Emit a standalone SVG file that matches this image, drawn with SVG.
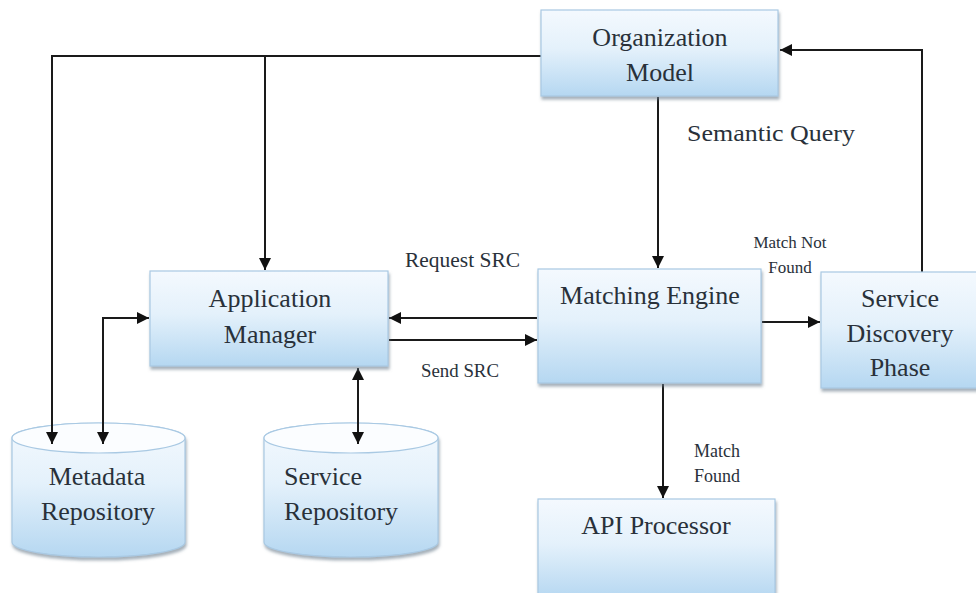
<svg xmlns="http://www.w3.org/2000/svg" width="976" height="593" viewBox="0 0 976 593" font-family="'Liberation Serif', 'Times New Roman', 'DejaVu Serif', serif">
<defs>
<linearGradient id="g" x1="0" y1="0" x2="0" y2="1">
<stop offset="0" stop-color="#f4f9fe"/>
<stop offset="0.45" stop-color="#e4f1fb"/>
<stop offset="1" stop-color="#b5d7f1"/>
</linearGradient>
<marker id="ah" viewBox="0 0 10 10" refX="10" refY="5" markerWidth="12" markerHeight="12" markerUnits="userSpaceOnUse" orient="auto-start-reverse">
<path d="M0,0 L10,5 L0,10 z" fill="#111"/>
</marker>
<filter id="sh" x="-5%" y="-5%" width="115%" height="120%">
<feDropShadow dx="1" dy="3" stdDeviation="1.5" flood-color="#6a7c8c" flood-opacity="0.6"/>
</filter>
</defs>
<style>
.box{fill:url(#g);stroke:#a9c9e3;stroke-width:1.2;filter:url(#sh)}
.t{font-family:'Liberation Serif','Times New Roman','DejaVu Serif',serif;font-size:26px;fill:#29313a;text-anchor:middle}
.ts{font-family:'Liberation Serif','Times New Roman','DejaVu Serif',serif;font-size:26px;fill:#29313a;text-anchor:start}
.l{font-family:'Liberation Serif','Times New Roman','DejaVu Serif',serif;fill:#29313a}
.c{fill:none;stroke:#1a1a1a;stroke-width:2}
</style>
<rect width="976" height="593" fill="#fff"/>
<g id="connectors">
<polyline class="c" points="541,56 52,56 52,444" marker-end="url(#ah)"/>
<line class="c" x1="265" y1="56" x2="265" y2="270" marker-end="url(#ah)"/>
<polyline class="c" points="103,444 103,318 149,318" marker-start="url(#ah)" marker-end="url(#ah)"/>
<line class="c" x1="358" y1="368" x2="358" y2="444" marker-start="url(#ah)" marker-end="url(#ah)"/>
<line class="c" x1="537" y1="318" x2="389" y2="318" marker-end="url(#ah)"/>
<line class="c" x1="389" y1="340" x2="537" y2="340" marker-end="url(#ah)"/>
<line class="c" x1="658" y1="97" x2="658" y2="268" marker-end="url(#ah)"/>
<line class="c" x1="762" y1="322" x2="820" y2="322" marker-end="url(#ah)"/>
<polyline class="c" points="922,272 922,50 780,50" marker-end="url(#ah)"/>
<line class="c" x1="663" y1="384" x2="663" y2="498" marker-end="url(#ah)"/>
<text class="l" x="687" y="141" font-size="24" textLength="168" lengthAdjust="spacingAndGlyphs">Semantic Query</text>
<text class="l" x="405" y="267" font-size="20" textLength="115" lengthAdjust="spacingAndGlyphs">Request SRC</text>
<text class="l" x="421" y="377" font-size="18" textLength="78" lengthAdjust="spacingAndGlyphs">Send SRC</text>
<text class="l" x="790" y="248" font-size="17" text-anchor="middle">Match Not</text>
<text class="l" x="790" y="273" font-size="17" text-anchor="middle">Found</text>
<text class="l" x="717" y="457" font-size="18" text-anchor="middle">Match</text>
<text class="l" x="717" y="482" font-size="18" text-anchor="middle">Found</text>
</g>
<g id="organization-model">
<rect class="box" x="541" y="10" width="237" height="86"/>
<text class="t" x="660" y="46">Organization</text>
<text class="t" x="660" y="81">Model</text>
</g>
<g id="application-manager">
<rect class="box" x="150" y="271" width="238" height="95"/>
<text class="t" x="270" y="307">Application</text>
<text class="t" x="270" y="343">Manager</text>
</g>
<g id="matching-engine">
<rect class="box" x="538" y="269" width="223" height="114"/>
<text class="t" x="650" y="304">Matching Engine</text>
</g>
<g id="service-discovery-phase">
<rect class="box" x="821" y="272" width="156" height="116"/>
<text class="t" x="900" y="307">Service</text>
<text class="t" x="900" y="342">Discovery</text>
<text class="t" x="900" y="376">Phase</text>
</g>
<g id="api-processor">
<rect class="box" x="538" y="499" width="237" height="100"/>
<text class="t" x="656" y="534">API Processor</text>
</g>
<g id="metadata-repository">
<path class="box" d="M12,438 A86.5,15 0 0 1 185,438 L185,542 A86.5,15 0 0 1 12,542 Z"/>
<ellipse cx="98.5" cy="438" rx="86.5" ry="15" fill="#fbfdff" stroke="#a9c9e3" stroke-width="1.2"/>
<text class="t" x="97" y="485">Metadata</text>
<text class="t" x="98" y="520">Repository</text>
</g>
<g id="service-repository">
<path class="box" d="M264,438 A87,15 0 0 1 438,438 L438,542 A87,15 0 0 1 264,542 Z"/>
<ellipse cx="351" cy="438" rx="87" ry="15" fill="#fbfdff" stroke="#a9c9e3" stroke-width="1.2"/>
<text class="ts" x="284" y="485">Service</text>
<text class="ts" x="284" y="520">Repository</text>
</g>
<g id="connectors-top">
<line class="c" x1="52" y1="420" x2="52" y2="444" marker-end="url(#ah)"/>
<line class="c" x1="103" y1="420" x2="103" y2="444" marker-end="url(#ah)"/>
<line class="c" x1="358" y1="420" x2="358" y2="444" marker-end="url(#ah)"/>
</g>
</svg>
